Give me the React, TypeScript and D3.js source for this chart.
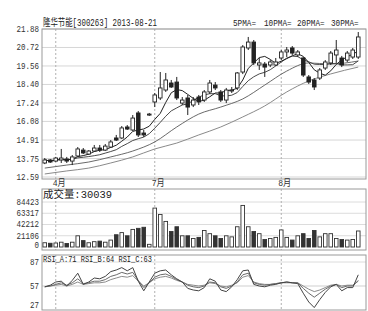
import * as d3 from "d3";

// 日K数据（2013-03 ~ 2013-08-21）
const opens = [13.47, 13.66, 13.59, 13.66, 13.72, 13.59, 13.91, 14.28, 14.03, 14.22, 14.41, 14.28, 14.47, 15.04, 15.04, 15.73, 15.54, 16.61, 15.35, 16.48, 17.3, 17.55, 18.05, 18.49, 18.55, 17.23, 17.55, 17.11, 17.61, 17.42, 17.93, 18.36, 17.93, 17.42, 17.99, 18.18, 19.18, 20.69, 21.06, 19.62, 19.68, 19.62, 19.62, 20.06, 20.44, 20.69, 20.25, 20.06, 18.87, 18.68, 18.8, 19.43, 19.75, 20.25, 20.06, 19.93, 20.12, 20.12];
const highs = [13.78, 13.72, 13.85, 14.35, 13.85, 13.97, 14.47, 14.41, 14.28, 14.6, 14.6, 14.66, 14.91, 15.23, 15.79, 15.85, 16.48, 16.73, 15.54, 16.61, 17.86, 19.18, 19.12, 18.68, 18.87, 17.61, 17.74, 17.61, 17.74, 18.05, 18.68, 18.55, 18.05, 18.18, 18.24, 19.18, 20.87, 21.38, 21.19, 20.06, 19.81, 19.93, 20.06, 20.56, 20.75, 20.81, 20.56, 20.12, 18.99, 18.8, 19.43, 19.93, 20.5, 21.19, 20.19, 20.5, 20.69, 21.69];
const lows = [13.4, 13.47, 13.53, 13.47, 13.47, 13.34, 13.85, 14.03, 13.97, 14.16, 14.16, 14.22, 14.41, 14.85, 14.98, 15.54, 15.48, 15.1, 15.1, 16.42, 16.98, 17.42, 17.93, 18.18, 17.42, 17.11, 16.48, 16.98, 17.11, 17.3, 17.8, 18.05, 17.3, 17.23, 17.86, 18.05, 19.05, 20.56, 19.62, 19.31, 18.87, 19.49, 19.56, 19.93, 20.12, 20.25, 20.12, 18.87, 18.43, 18.05, 18.68, 19.31, 19.62, 19.75, 19.49, 19.81, 20.0, 20.0];
const closes = [13.66, 13.53, 13.78, 13.78, 13.59, 13.85, 14.35, 14.1, 14.22, 14.41, 14.28, 14.53, 14.79, 14.91, 15.67, 15.6, 16.29, 15.23, 15.23, 16.54, 17.74, 18.18, 18.68, 18.24, 17.55, 17.42, 16.98, 17.42, 17.3, 17.93, 18.49, 18.18, 17.42, 18.05, 18.05, 19.12, 20.75, 21.06, 19.75, 19.75, 19.49, 19.81, 19.81, 20.44, 20.56, 20.37, 20.44, 18.99, 18.55, 18.24, 19.31, 19.81, 20.37, 20.56, 19.62, 20.37, 20.56, 21.38];
const volumes = [8000, 7000, 7500, 9000, 6500, 9000, 21000, 12000, 8000, 10000, 11000, 9000, 13000, 23000, 27000, 21000, 33000, 35000, 37000, 5000, 73000, 61000, 48000, 29000, 38000, 21000, 21000, 16000, 18000, 31000, 25000, 21000, 16000, 21000, 19000, 38000, 78000, 38000, 29000, 25000, 14000, 16000, 18000, 32000, 18000, 13000, 21000, 25000, 16000, 31000, 19000, 25000, 25000, 16000, 14000, 13000, 14000, 30039];

// 20/30日均线（图上读出的采样点）
const maSampleIdx = [0, 4, 8, 12, 16, 20, 24, 28, 32, 36, 40, 44, 48, 52, 57];
const ma20Vals = [13.15, 13.34, 13.53, 13.85, 14.22, 14.79, 15.73, 16.54, 16.98, 17.49, 18.36, 19.24, 19.75, 19.68, 19.87];
const ma30Vals = [12.78, 12.97, 13.15, 13.47, 13.85, 14.35, 14.72, 15.23, 15.73, 16.36, 17.05, 17.93, 18.62, 19.06, 19.49];

// RSI
const rsiA = [56, 58, 62, 63, 57, 64, 73, 59, 62, 67, 66, 69, 75, 77, 80, 76, 80, 63, 51, 62, 73, 76, 77, 71, 66, 62, 54, 52, 51, 55, 66, 63, 52, 50, 56, 65, 76, 77, 59, 57, 56, 58, 59, 61, 62, 61, 60, 48, 37, 30, 40, 49, 56, 59, 51, 55, 55, 71];
const rsiB = [56, 57, 59, 61, 58, 61, 66, 60, 61, 63, 63, 65, 69, 71, 74, 72, 74, 64, 55, 61, 68, 71, 72, 69, 65, 62, 58, 56, 55, 57, 62, 61, 56, 54, 57, 62, 71, 73, 61, 59, 58, 59, 60, 61, 62, 61, 61, 54, 48, 43, 48, 53, 57, 59, 55, 57, 57, 64];
const rsiC = [56, 57, 58, 59, 57, 59, 62, 59, 60, 61, 61, 62, 65, 67, 69, 68, 70, 63, 57, 61, 66, 68, 69, 67, 64, 62, 59, 58, 57, 58, 61, 60, 57, 56, 58, 61, 68, 70, 62, 60, 59, 59, 60, 61, 61, 61, 61, 57, 53, 50, 52, 55, 58, 59, 57, 58, 58, 63];

const priceTicks = [21.88, 20.72, 19.56, 18.4, 17.24, 16.08, 14.91, 13.75, 12.59];
const volTicks = [84423, 63317, 42212, 21106, 0];
const rsiTicks = [87, 57, 27];
const monthStarts = [2, 20, 43];
const monthLabels = ["4月", "7月", "8月"];
const maNames = ["5PMA", "10PMA", "20PMA", "30PMA"];

const W = 368;
const H = 311;
const L = 42;
const R = 366;
const mono = "'Liberation Mono', 'DejaVu Sans Mono', monospace";
const cjk = "'Liberation Mono', 'Noto Sans CJK SC', monospace";

function movingAvg(k: number) {
  return closes.map((_, i) => d3.mean(closes.slice(Math.max(0, i - k + 1), i + 1)) as number);
}

export default function App() {
  const n = closes.length;
  const x = d3.scaleLinear().domain([0, n - 1]).range([44.75, 358.25]);
  const yP = d3.scaleLinear().domain([12.59, 21.88]).range([177, 29]);
  const yV = d3.scaleLinear().domain([0, 84423]).range([247, 202]);
  const yR = d3.scaleLinear().domain([27, 87]).range([310, 262]);
  const bw = 3.6;

  const ma5 = movingAvg(5);
  const ma10 = movingAvg(10);
  const priceLine = d3.line<number>().x((_, i) => x(i)).y((d) => yP(d));
  const sampleLine = d3
    .line<number>()
    .x((_, i) => x(maSampleIdx[i]))
    .y((d) => yP(d))
    .curve(d3.curveMonotoneX);
  const rsiLine = d3.line<number>().x((_, i) => x(i)).y((d) => yR(d));

  const numLabel = (t: string, y: number, key: string) => (
    <text key={key} x={39} y={y} textAnchor="end" fontFamily={mono} fontSize={9} fill="#333"
      textLength={t.length * 4.5} lengthAdjust="spacingAndGlyphs">{t}</text>
  );

  const volText = `成交量:${volumes[n - 1]}`;
  const rsiText = `RSI_A:${rsiA[n - 1]} RSI_B:${rsiB[n - 1]} RSI_C:${rsiC[n - 1]}`;
  // 图例各项起点
  const legendX = [233, 264, 297, 331];

  return (
    <svg width={W} height={H} style={{ position: "fixed", left: 0, top: 0, background: "#fff" }}>
      {/* 主图网格 */}
      {priceTicks.map((t) => (
        <line key={"pg" + t} x1={L} x2={R} y1={yP(t)} y2={yP(t)} stroke="#d6d6d6" strokeWidth={1} />
      ))}
      {volTicks.slice(0, 4).map((t) => (
        <line key={"vg" + t} x1={L} x2={R} y1={yV(t)} y2={yV(t)} stroke="#dcdcdc" strokeWidth={1} />
      ))}
      <line x1={L} x2={R} y1={yR(57)} y2={yR(57)} stroke="#cfcfcf" strokeWidth={1} />
      <line x1={L} x2={R} y1={yR(87)} y2={yR(87)} stroke="#dcdcdc" strokeWidth={1} />

      {/* 月份分隔虚线 */}
      {monthStarts.map((m) => (
        <g key={"ms" + m} stroke="#b0b0b0" strokeDasharray="2,2" strokeWidth={1}>
          <line x1={x(m)} x2={x(m)} y1={29} y2={179} />
          <line x1={x(m)} x2={x(m)} y1={189} y2={250} />
          <line x1={x(m)} x2={x(m)} y1={255} y2={310} />
        </g>
      ))}

      {/* 边框 */}
      <rect x={L} y={29} width={R - L} height={150} fill="none" stroke="#9a9a9a" />
      <rect x={L} y={189} width={R - L} height={61} fill="none" stroke="#9a9a9a" />
      <rect x={L} y={255} width={R - L} height={55} fill="none" stroke="#9a9a9a" />

      {/* 均线 */}
      <path d={sampleLine(ma30Vals) || ""} fill="none" stroke="#8a8a8a" strokeWidth={1} />
      <path d={sampleLine(ma20Vals) || ""} fill="none" stroke="#6a6a6a" strokeWidth={1} />
      <path d={priceLine(ma10) || ""} fill="none" stroke="#4a4a4a" strokeWidth={1} />
      <path d={priceLine(ma5) || ""} fill="none" stroke="#222" strokeWidth={1} />

      {/* K线 */}
      {closes.map((c, i) => {
        const o = opens[i];
        const up = c >= o;
        const top = yP(Math.max(o, c));
        const bot = yP(Math.min(o, c));
        return (
          <g key={"k" + i}>
            <line x1={x(i)} x2={x(i)} y1={yP(highs[i])} y2={top} stroke="#222" strokeWidth={1} />
            <line x1={x(i)} x2={x(i)} y1={bot} y2={yP(lows[i])} stroke="#222" strokeWidth={1} />
            <rect x={x(i) - bw / 2} y={top} width={bw} height={Math.max(1, bot - top)}
              fill={up ? "#fff" : "#222"} stroke="#222" strokeWidth={0.9} />
          </g>
        );
      })}

      {/* 成交量 */}
      {volumes.map((v, i) => {
        const up = closes[i] >= opens[i];
        return (
          <rect key={"v" + i} x={x(i) - bw / 2} y={yV(v)} width={bw} height={yV(0) - yV(v)}
            fill={up ? "#fff" : "#333"} stroke="#333" strokeWidth={0.9} />
        );
      })}

      {/* RSI */}
      <path d={rsiLine(rsiC) || ""} fill="none" stroke="#8c8c8c" strokeWidth={1} />
      <path d={rsiLine(rsiB) || ""} fill="none" stroke="#6a6a6a" strokeWidth={1} />
      <path d={rsiLine(rsiA) || ""} fill="none" stroke="#444" strokeWidth={1} />

      {/* 坐标文字 */}
      {priceTicks.map((t) => numLabel(t.toFixed(2), yP(t) + 3, "pl" + t))}
      {volTicks.map((t) => numLabel(String(t), Math.min(yV(t), 245) + 3, "vl" + t))}
      {rsiTicks.map((t) => numLabel(String(t), Math.min(Math.max(yR(t), 260), 305) + 3, "rl" + t))}

      {monthStarts.map((m, k) => (
        <text key={"ml" + m} x={x(m) - 3} y={186} fontFamily={cjk} fontSize={9} fill="#333"
          textLength={13} lengthAdjust="spacingAndGlyphs">{monthLabels[k]}</text>
      ))}

      <text x={43} y={26} fontFamily={cjk} fontSize={10} fill="#222" textLength={114}
        lengthAdjust="spacingAndGlyphs">{"隆华节能[300263] 2013-08-21"}</text>
      {maNames.map((name, k) => (
        <text key={"lg" + name} x={legendX[k]} y={26} fontFamily={mono} fontSize={9} fill="#222"
          textLength={(name.length + 1) * 4.6} lengthAdjust="spacingAndGlyphs">{name + "="}</text>
      ))}
      <text x={43} y={198} fontFamily={cjk} fontSize={10} fill="#222" textLength={69}
        lengthAdjust="spacingAndGlyphs">{volText}</text>
      <text x={43} y={262} fontFamily={mono} fontSize={9} fill="#222" textLength={109}
        lengthAdjust="spacingAndGlyphs">{rsiText}</text>
    </svg>
  );
}
